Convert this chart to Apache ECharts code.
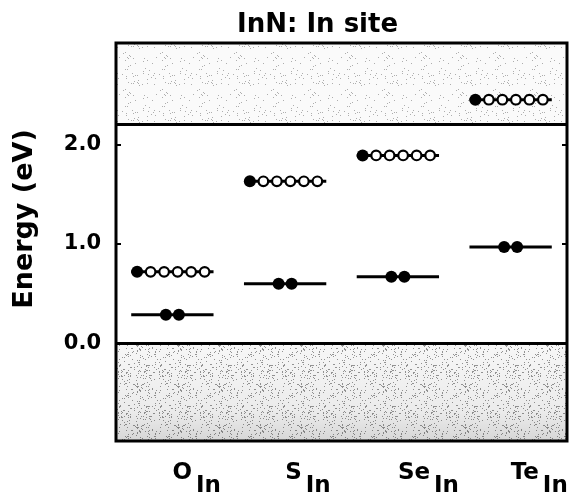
<!DOCTYPE html>
<html>
<head>
<meta charset="utf-8">
<script src="https://cdn.jsdelivr.net/npm/echarts@6/dist/echarts.min.js"></script>
<style>
  html, body { margin: 0; padding: 0; background: #fff; }
  #chart { width: 584px; height: 498px; }
</style>
</head>
<body>
<div id="chart"></div>
<script>
// Substitutional dopants on the In site of InN
const dopants = ['O', 'S', 'Se', 'Te'];
const site = 'In';

// Defect levels (eV above the valence-band maximum)
const lowerLevel = [0.29, 0.60, 0.67, 0.97];
const upperLevel = [0.72, 1.63, 1.89, 2.45];

// Occupancy of each level: filled and empty states
const lowerFilled = [2, 2, 2, 2];
const lowerEmpty = [0, 0, 0, 0];
const upperFilled = [1, 1, 1, 1];
const upperEmpty = [5, 5, 5, 5];

// Band edges and axis range
const vbmEnergy = 0.0;
const cbmEnergy = 2.2;
const yMin = -0.98;
const yMax = 3.02;
const yTicks = [0, 1, 2];
const yTicksRight = [1, 2];

const FONT = 'DejaVu Sans';

// Speckled fill used to shade the band continua
function speckle(size, threshold, alpha) {
  const c = document.createElement('canvas');
  c.width = c.height = size;
  const g = c.getContext('2d');
  g.fillStyle = 'rgba(0,0,0,' + alpha + ')';
  for (let y = 0; y < size; y++) {
    for (let x = 0; x < size; x++) {
      const h = (((x * 73856093) ^ (y * 19349663) ^ (x * y * 83492791)) >>> 0) % 1000;
      if (h < threshold) g.fillRect(x, y, 1, 1);
    }
  }
  return c;
}

// One defect level: a short bar with its electrons (filled) and holes (open)
function levelRenderer(filled, empty, spacing, shift) {
  return function (params, api) {
    const i = params.dataIndex;
    const p = api.coord([api.value(0), api.value(1)]);
    const band = api.size([1, 0])[0];
    const half = band * 0.365;
    const n = filled[i] + empty[i];
    const children = [{
      type: 'line',
      shape: { x1: p[0] - half, y1: p[1], x2: p[0] + half, y2: p[1] },
      style: { stroke: '#000', lineWidth: 3 }
    }];
    for (let k = 0; k < n; k++) {
      const cx = p[0] + shift + (k - (n - 1) / 2) * spacing;
      if (k < filled[i]) {
        children.push({ type: 'circle', shape: { cx: cx, cy: p[1], r: 6 }, style: { fill: '#000' } });
      } else {
        children.push({ type: 'circle', shape: { cx: cx, cy: p[1], r: 4.8 }, style: { fill: '#fff', stroke: '#000', lineWidth: 2.2 } });
      }
    }
    return { type: 'group', children: children };
  };
}

const chart = echarts.init(document.getElementById('chart'), null, { renderer: 'canvas' });

chart.setOption({
  animation: false,
  backgroundColor: '#fff',
  title: {
    text: 'InN: In site',
    left: 232,
    top: 7,
    textStyle: { fontFamily: FONT, fontSize: 26, fontWeight: 'bold', color: '#000' }
  },
  grid: {
    left: 116, right: 17, top: 43, bottom: 55,
    show: true, borderColor: '#000', borderWidth: 3, backgroundColor: 'transparent'
  },
  xAxis: {
    type: 'category',
    data: dopants,
    boundaryGap: true,
    axisLine: { show: false },
    axisTick: { show: false },
    splitLine: { show: false },
    axisLabel: {
      align: 'left',
      margin: 21,
      formatter: v => '{m|' + v + '}{s|' + site + '}',
      rich: {
        m: { fontFamily: FONT, fontSize: 23, fontWeight: 'bold', color: '#000', verticalAlign: 'top', padding: [0, 4, 0, 0] },
        s: { fontFamily: FONT, fontSize: 23, fontWeight: 'bold', color: '#000', verticalAlign: 'top', padding: [13, 0, 0, 0] }
      }
    }
  },
  yAxis: [{
    type: 'value',
    min: yMin, max: yMax,
    name: 'Energy (eV)',
    nameLocation: 'middle',
    nameGap: 78,
    nameTextStyle: { fontFamily: FONT, fontSize: 27, fontWeight: 'bold', color: '#000', padding: [0, 0, 0, 46] },
    axisLine: { show: false },
    splitLine: { show: false },
    axisTick: { show: true, inside: true, length: 5, customValues: yTicks, lineStyle: { color: '#000', width: 2 } },
    axisLabel: {
      customValues: yTicks,
      formatter: v => v.toFixed(1),
      margin: 15,
      padding: [0, 0, 10, 0],
      fontFamily: FONT, fontSize: 21, fontWeight: 'bold', color: '#000'
    }
  }, {
    type: 'value',
    position: 'right',
    min: yMin, max: yMax,
    axisLine: { show: false },
    splitLine: { show: false },
    axisLabel: { show: false },
    axisTick: { show: true, inside: true, length: 5, customValues: yTicksRight, lineStyle: { color: '#000', width: 2 } }
  }],
  series: [
    {
      // conduction band continuum
      type: 'custom',
      silent: true,
      data: [],
      renderItem: () => null,
      markArea: {
        silent: true,
        itemStyle: { color: 'rgba(0,0,0,0.02)' },
        data: [[{ yAxis: cbmEnergy }, { yAxis: yMax }]]
      }
    },
    {
      type: 'custom',
      silent: true,
      data: [],
      renderItem: () => null,
      markArea: {
        silent: true,
        itemStyle: { color: { image: speckle(37, 35, 0.3), repeat: 'repeat' } },
        data: [[{ yAxis: cbmEnergy }, { yAxis: yMax }]]
      }
    },
    {
      // valence band continuum
      type: 'custom',
      silent: true,
      data: [],
      renderItem: () => null,
      markArea: {
        silent: true,
        itemStyle: {
          color: new echarts.graphic.LinearGradient(0, 0, 0, 1, [
            { offset: 0, color: 'rgba(0,0,0,0.03)' },
            { offset: 0.7, color: 'rgba(0,0,0,0.08)' },
            { offset: 1, color: 'rgba(0,0,0,0.16)' }
          ])
        },
        data: [[{ yAxis: yMin }, { yAxis: vbmEnergy }]]
      }
    },
    {
      type: 'custom',
      silent: true,
      data: [],
      renderItem: () => null,
      markArea: {
        silent: true,
        itemStyle: { color: { image: speckle(41, 100, 0.4), repeat: 'repeat' } },
        data: [[{ yAxis: yMin }, { yAxis: vbmEnergy }]]
      },
      markLine: {
        silent: true,
        symbol: 'none',
        label: { show: false },
        lineStyle: { color: '#000', width: 3, type: 'solid' },
        data: [{ yAxis: vbmEnergy }, { yAxis: cbmEnergy }]
      }
    },
    {
      name: 'lower level',
      type: 'custom',
      renderItem: levelRenderer(lowerFilled, lowerEmpty, 13, 0),
      data: lowerLevel.map((v, i) => [i, v]),
      z: 5
    },
    {
      name: 'upper level',
      type: 'custom',
      renderItem: levelRenderer(upperFilled, upperEmpty, 13.5, -1.5),
      data: upperLevel.map((v, i) => [i, v]),
      z: 5
    }
  ]
});
</script>
</body>
</html>
